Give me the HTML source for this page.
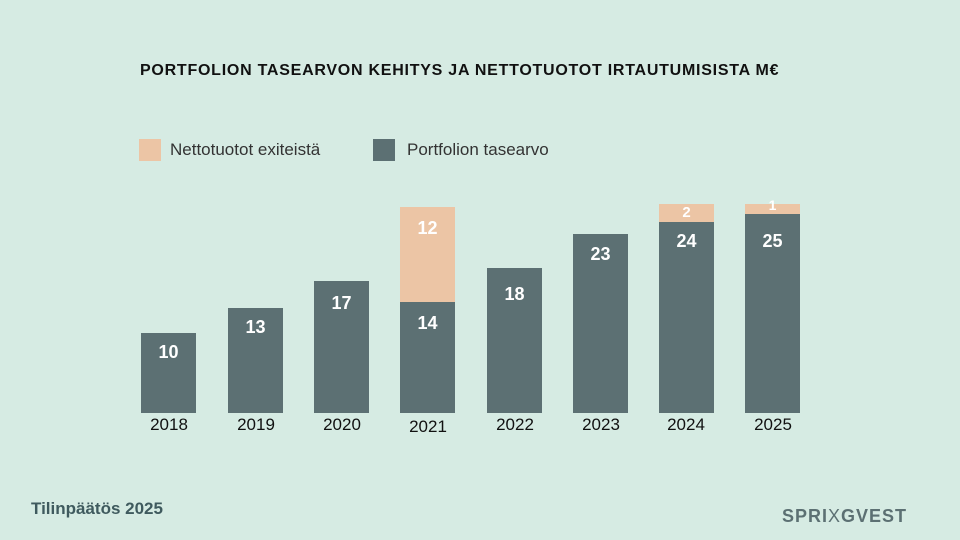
<!DOCTYPE html>
<html><head><meta charset="utf-8"><style>
body{margin:0;width:960px;height:540px;background:#d6ebe3;font-family:"Liberation Sans",sans-serif;position:relative;overflow:hidden}
.a{position:absolute}
.bar{position:absolute;background:#5c7073;width:55px}
.pe{position:absolute;background:#ecc5a5;width:55px}
.v{position:absolute;width:55px;text-align:center;color:#fff;font-weight:bold;font-size:18px}
.y{position:absolute;width:70px;text-align:center;color:#111;font-size:17px;top:415px}
</style></head><body>
<div class="a" style="left:140px;top:62px;font-weight:bold;font-size:16px;letter-spacing:0.75px;color:#111">PORTFOLION TASEARVON KEHITYS JA NETTOTUOTOT IRTAUTUMISISTA M€</div>
<div class="a" style="left:139px;top:139px;width:22px;height:22px;background:#ecc5a5"></div>
<div class="a" style="left:170px;top:140px;font-size:17px;color:#333">Nettotuotot exiteistä</div>
<div class="a" style="left:373px;top:139px;width:22px;height:22px;background:#5c7073"></div>
<div class="a" style="left:407px;top:140px;font-size:17px;color:#333">Portfolion tasearvo</div>

<div class="bar" style="left:141px;top:333px;height:80px"></div><div class="v" style="left:141px;top:342px">10</div><div class="y" style="left:134px">2018</div>
<div class="bar" style="left:228px;top:308px;height:105px"></div><div class="v" style="left:228px;top:317px">13</div><div class="y" style="left:221px">2019</div>
<div class="bar" style="left:314px;top:281px;height:132px"></div><div class="v" style="left:314px;top:293px">17</div><div class="y" style="left:307px">2020</div>
<div class="pe" style="left:400px;top:207px;height:95px"></div><div class="v" style="left:400px;top:218px">12</div>
<div class="bar" style="left:400px;top:302px;height:111px"></div><div class="v" style="left:400px;top:313px">14</div><div class="y" style="left:393px;top:417px">2021</div>
<div class="bar" style="left:487px;top:268px;height:145px"></div><div class="v" style="left:487px;top:284px">18</div><div class="y" style="left:480px">2022</div>
<div class="bar" style="left:573px;top:234px;height:179px"></div><div class="v" style="left:573px;top:244px">23</div><div class="y" style="left:566px">2023</div>
<div class="pe" style="left:659px;top:204px;height:18px"></div><div class="v" style="left:659px;top:204px;font-size:15px">2</div>
<div class="bar" style="left:659px;top:222px;height:191px"></div><div class="v" style="left:659px;top:231px">24</div><div class="y" style="left:651px">2024</div>
<div class="pe" style="left:745px;top:204px;height:10px"></div><div class="v" style="left:745px;top:197px;font-size:14px">1</div>
<div class="bar" style="left:745px;top:214px;height:199px"></div><div class="v" style="left:745px;top:231px">25</div><div class="y" style="left:738px">2025</div>

<div class="a" style="left:31px;top:499px;font-size:17px;font-weight:bold;color:#3f5a5e">Tilinpäätös 2025</div>
<div class="a" style="left:782px;top:506px;font-size:18px;font-weight:bold;color:#5c7073;letter-spacing:1px">SPRI<span style="font-weight:normal">X</span>GVEST</div>
</body></html>
